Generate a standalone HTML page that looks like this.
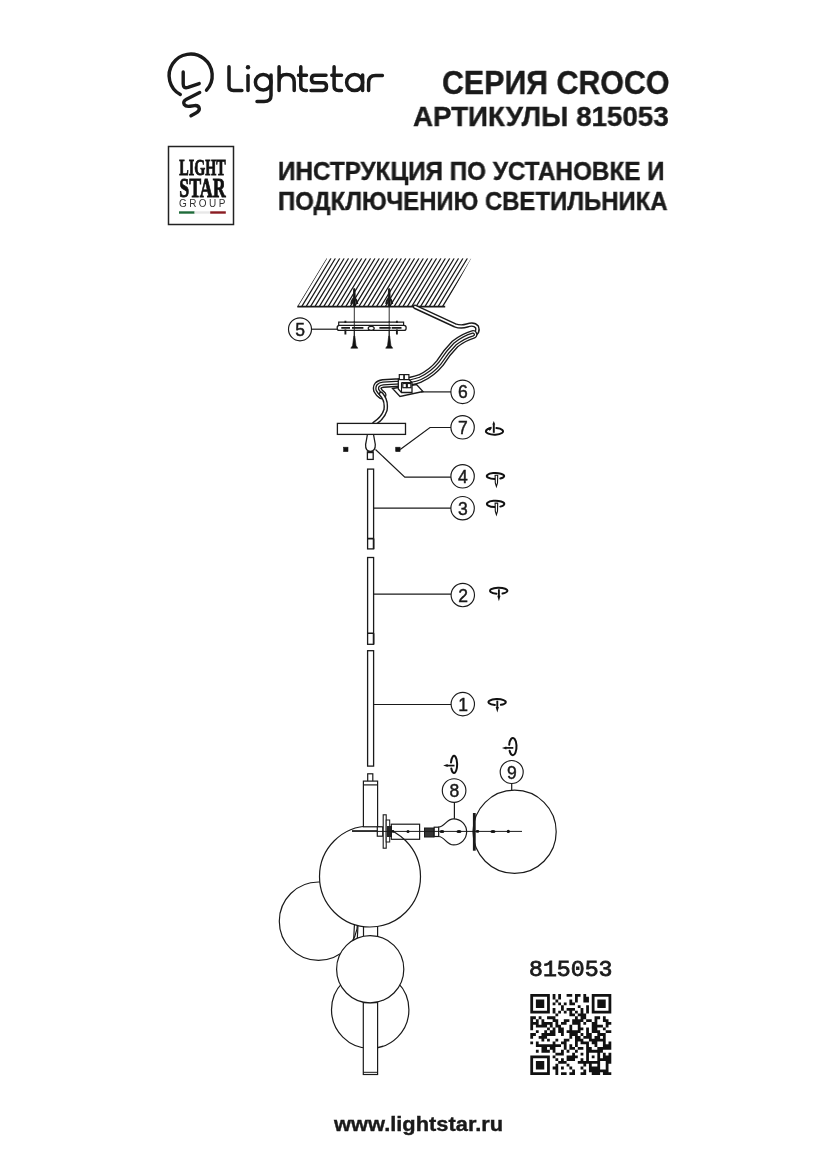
<!DOCTYPE html>
<html><head><meta charset="utf-8">
<style>
html,body{margin:0;padding:0;background:#fff;}
body{width:826px;height:1169px;position:relative;overflow:hidden;}
.t{position:absolute;white-space:nowrap;font-family:"Liberation Sans",sans-serif;font-weight:bold;color:#1a1a1a;line-height:1;transform-origin:0 0;-webkit-text-stroke:0.4px #1a1a1a;will-change:transform;}
svg{position:absolute;left:0;top:0;will-change:transform;}
</style></head><body>
<div class="t" style="left:442px;top:64.6px;font-size:34px;transform:scaleX(0.893)">СЕРИЯ CROCO</div>
<div class="t" style="left:413px;top:102.3px;font-size:28.5px;transform:scaleX(0.973)">АРТИКУЛЫ 815053</div>
<div class="t" style="left:278.2px;top:158.6px;font-size:25px;transform:scaleX(0.970)">ИНСТРУКЦИЯ ПО УСТАНОВКЕ И</div>
<div class="t" style="left:278.2px;top:188.5px;font-size:25px;transform:scaleX(0.957)">ПОДКЛЮЧЕНИЮ СВЕТИЛЬНИКА</div>
<div class="t" style="left:528.8px;top:959.2px;font-size:22.5px;transform:scaleX(1.03);font-family:'Liberation Mono',monospace;font-weight:normal;-webkit-text-stroke:0.8px #1a1a1a">815053</div>
<div class="t" style="left:334px;top:1113.4px;font-size:21px;transform:scaleX(1.04)">www.lightstar.ru</div>

<svg width="826" height="1169" viewBox="0 0 826 1169">
<defs>
<clipPath id="ceil"><path d="M326.6 258.3H471.2L444.6 306.6H297.3Z"/></clipPath>
</defs>
<g fill="none" stroke="#1a1a1a" stroke-width="3.4" stroke-linecap="round" stroke-linejoin="round">
<path d="M180.3 94.5A21.55 21.55 0 1 1 206.5 90.2"/>
<path d="M183.2 72V84Q183.2 88.8 188 87.4L199.2 83.6"/>
<path d="M199.7 92.6L186.5 99.3Q182.5 101.5 184.2 104.5Q185.8 106.8 190 106.2L194.5 105.6Q199 105.3 199.3 108.7Q199.5 111.2 196 113L191 115.8"/>
</g>
<g fill="none" stroke="#1a1a1a" stroke-width="3.5" stroke-linecap="round" stroke-linejoin="round">
<path d="M229 66.7V86Q229 90.4 233.4 90.4H241.9"/>
<path d="M248 75.5V90.4"/>
<circle cx="263.2" cy="82.3" r="7.8"/>
<path d="M271 75V95.5Q271 101.6 264 101.6H257"/>
<path d="M279.1 66.7V90.4M279.1 82Q279.1 74.6 286.6 74.6Q294.2 74.6 294.2 82V90.4"/>
<path d="M300.8 66.7V86Q300.8 90.4 305.2 90.4H306.5M298.5 75.3H306.5"/>
<path d="M326 75.3H315Q311.5 75.3 311.5 79Q311.5 82.8 315 82.8H323Q326.5 82.8 326.5 86.6Q326.5 90.4 323 90.4H311"/>
<path d="M334.1 66.7V86Q334.1 90.4 338.5 90.4H341.5M331.8 75.3H341.5"/>
<circle cx="354.6" cy="82.5" r="8"/>
<path d="M362.6 75V90.4"/>
<path d="M368.6 90.4V82.5Q368.6 75.5 375.6 75.5H382.4"/>
</g>
<circle cx="248" cy="67.2" r="2.2" fill="#1a1a1a"/>
<rect x="168.5" y="146.5" width="65" height="78" fill="none" stroke="#222" stroke-width="1.5"/>
<text x="179.3" y="175.3" font-family="Liberation Serif" font-weight="bold" font-size="23" textLength="46.4" lengthAdjust="spacingAndGlyphs" fill="#111" stroke="#111" stroke-width="0.85">LIGHT</text>
<text x="179.3" y="197.1" font-family="Liberation Serif" font-weight="bold" font-size="27" textLength="46.4" lengthAdjust="spacingAndGlyphs" fill="#111" stroke="#111" stroke-width="0.85">STAR</text>
<text x="179" y="207.4" font-family="Liberation Sans" font-size="10" textLength="46.3" lengthAdjust="spacing" fill="#333">GROUP</text>
<rect x="179" y="211.3" width="15.6" height="2.4" fill="#1f6b3a"/>
<rect x="194.6" y="211.3" width="15.6" height="2.4" fill="#e8e8e8"/>
<rect x="210.2" y="211.3" width="15.6" height="2.4" fill="#8a1c22"/>

<g transform="translate(530.3 994) scale(2.793)" fill="#111"><path d="M0 0h7v1h-7zM8 0h1v1h-1zM10 0h1v1h-1zM13 0h2v1h-2zM16 0h2v1h-2zM19 0h1v1h-1zM22 0h7v1h-7zM0 1h1v1h-1zM6 1h1v1h-1zM8 1h1v1h-1zM10 1h1v1h-1zM16 1h1v1h-1zM19 1h2v1h-2zM22 1h1v1h-1zM28 1h1v1h-1zM0 2h1v1h-1zM2 2h3v1h-3zM6 2h1v1h-1zM9 2h1v1h-1zM14 2h1v1h-1zM16 2h1v1h-1zM19 2h2v1h-2zM22 2h1v1h-1zM24 2h3v1h-3zM28 2h1v1h-1zM0 3h1v1h-1zM2 3h3v1h-3zM6 3h1v1h-1zM8 3h1v1h-1zM10 3h1v1h-1zM12 3h1v1h-1zM14 3h2v1h-2zM22 3h1v1h-1zM24 3h3v1h-3zM28 3h1v1h-1zM0 4h1v1h-1zM2 4h3v1h-3zM6 4h1v1h-1zM11 4h1v1h-1zM17 4h1v1h-1zM20 4h1v1h-1zM22 4h1v1h-1zM24 4h3v1h-3zM28 4h1v1h-1zM0 5h1v1h-1zM6 5h1v1h-1zM8 5h1v1h-1zM11 5h1v1h-1zM13 5h3v1h-3zM18 5h1v1h-1zM20 5h1v1h-1zM22 5h1v1h-1zM28 5h1v1h-1zM0 6h7v1h-7zM8 6h1v1h-1zM10 6h1v1h-1zM12 6h1v1h-1zM14 6h1v1h-1zM16 6h1v1h-1zM18 6h1v1h-1zM20 6h1v1h-1zM22 6h7v1h-7zM9 7h1v1h-1zM14 7h2v1h-2zM17 7h3v1h-3zM0 8h2v1h-2zM3 8h1v1h-1zM6 8h3v1h-3zM16 8h1v1h-1zM18 8h2v1h-2zM23 8h2v1h-2zM26 8h1v1h-1zM0 9h1v1h-1zM2 9h1v1h-1zM4 9h1v1h-1zM8 9h2v1h-2zM12 9h2v1h-2zM15 9h4v1h-4zM20 9h2v1h-2zM23 9h1v1h-1zM26 9h2v1h-2zM0 10h3v1h-3zM4 10h4v1h-4zM9 10h1v1h-1zM11 10h2v1h-2zM15 10h3v1h-3zM19 10h1v1h-1zM22 10h2v1h-2zM27 10h2v1h-2zM0 11h1v1h-1zM2 11h4v1h-4zM7 11h1v1h-1zM9 11h2v1h-2zM14 11h1v1h-1zM17 11h1v1h-1zM22 11h4v1h-4zM27 11h1v1h-1zM0 12h1v1h-1zM6 12h1v1h-1zM8 12h1v1h-1zM10 12h2v1h-2zM14 12h1v1h-1zM17 12h2v1h-2zM20 12h1v1h-1zM22 12h2v1h-2zM26 12h1v1h-1zM2 13h1v1h-1zM5 13h1v1h-1zM7 13h2v1h-2zM10 13h2v1h-2zM13 13h5v1h-5zM20 13h1v1h-1zM22 13h3v1h-3zM27 13h2v1h-2zM0 14h2v1h-2zM4 14h5v1h-5zM11 14h1v1h-1zM14 14h3v1h-3zM18 14h1v1h-1zM20 14h2v1h-2zM24 14h3v1h-3zM0 15h1v1h-1zM3 15h3v1h-3zM14 15h1v1h-1zM16 15h2v1h-2zM19 15h3v1h-3zM23 15h2v1h-2zM26 15h1v1h-1zM4 16h1v1h-1zM6 16h1v1h-1zM9 16h1v1h-1zM12 16h2v1h-2zM16 16h3v1h-3zM21 16h6v1h-6zM0 17h1v1h-1zM2 17h1v1h-1zM8 17h1v1h-1zM11 17h2v1h-2zM16 17h1v1h-1zM18 17h3v1h-3zM22 17h2v1h-2zM26 17h1v1h-1zM28 17h1v1h-1zM2 18h9v1h-9zM12 18h1v1h-1zM14 18h1v1h-1zM16 18h1v1h-1zM20 18h1v1h-1zM23 18h1v1h-1zM26 18h3v1h-3zM4 19h2v1h-2zM7 19h2v1h-2zM12 19h1v1h-1zM14 19h2v1h-2zM17 19h2v1h-2zM20 19h2v1h-2zM24 19h5v1h-5zM2 20h1v1h-1zM4 20h3v1h-3zM8 20h1v1h-1zM11 20h1v1h-1zM13 20h1v1h-1zM16 20h1v1h-1zM20 20h6v1h-6zM9 21h3v1h-3zM15 21h1v1h-1zM18 21h1v1h-1zM20 21h1v1h-1zM24 21h1v1h-1zM26 21h1v1h-1zM28 21h1v1h-1zM0 22h7v1h-7zM8 22h1v1h-1zM13 22h4v1h-4zM20 22h1v1h-1zM22 22h1v1h-1zM24 22h1v1h-1zM26 22h3v1h-3zM0 23h1v1h-1zM6 23h1v1h-1zM9 23h1v1h-1zM11 23h1v1h-1zM13 23h3v1h-3zM18 23h1v1h-1zM20 23h1v1h-1zM24 23h5v1h-5zM0 24h1v1h-1zM2 24h3v1h-3zM6 24h1v1h-1zM10 24h3v1h-3zM17 24h8v1h-8zM27 24h2v1h-2zM0 25h1v1h-1zM2 25h3v1h-3zM6 25h1v1h-1zM9 25h1v1h-1zM13 25h1v1h-1zM19 25h1v1h-1zM21 25h1v1h-1zM24 25h1v1h-1zM27 25h1v1h-1zM0 26h1v1h-1zM2 26h3v1h-3zM6 26h1v1h-1zM8 26h2v1h-2zM11 26h1v1h-1zM14 26h1v1h-1zM18 26h1v1h-1zM21 26h4v1h-4zM27 26h1v1h-1zM0 27h1v1h-1zM6 27h1v1h-1zM9 27h1v1h-1zM15 27h1v1h-1zM19 27h1v1h-1zM21 27h7v1h-7zM0 28h7v1h-7zM9 28h1v1h-1zM11 28h2v1h-2zM14 28h2v1h-2zM18 28h2v1h-2zM22 28h3v1h-3zM26 28h3v1h-3z"/></g>

<g fill="none" stroke="#1a1a1a" stroke-width="1.2">
<g clip-path="url(#ceil)" stroke-width="1.25"><path d="M288.50 306.6L317.80 258.3M292.90 306.6L322.20 258.3M297.30 306.6L326.60 258.3M301.70 306.6L331.00 258.3M306.10 306.6L335.40 258.3M310.50 306.6L339.80 258.3M314.90 306.6L344.20 258.3M319.30 306.6L348.60 258.3M323.70 306.6L353.00 258.3M328.10 306.6L357.40 258.3M332.50 306.6L361.80 258.3M336.90 306.6L366.20 258.3M341.30 306.6L370.60 258.3M345.70 306.6L375.00 258.3M350.10 306.6L379.40 258.3M354.50 306.6L383.80 258.3M358.90 306.6L388.20 258.3M363.30 306.6L392.60 258.3M367.70 306.6L397.00 258.3M372.10 306.6L401.40 258.3M376.50 306.6L405.80 258.3M380.90 306.6L410.20 258.3M385.30 306.6L414.60 258.3M389.70 306.6L419.00 258.3M394.10 306.6L423.40 258.3M398.50 306.6L427.80 258.3M402.90 306.6L432.20 258.3M407.30 306.6L436.60 258.3M411.70 306.6L441.00 258.3M416.10 306.6L445.40 258.3M420.50 306.6L449.80 258.3M424.90 306.6L454.20 258.3M429.30 306.6L458.60 258.3M433.70 306.6L463.00 258.3M438.10 306.6L467.40 258.3M442.50 306.6L471.80 258.3M446.90 306.6L476.20 258.3"/></g>
<path d="M297.3 306.6H445.2" stroke-width="1.6"/>

<!-- anchors in ceiling -->
<path d="M354.3 306V348M389.2 306V348" stroke-width="0.9"/>
<path d="M353.3 306L353.4 296L353.7 288.7H354.9L355.2 296L355.3 306Z" fill="#111" stroke-width="0.9"/>
<path d="M388.2 306L388.3 296L388.6 288.7H389.8L390.1 296L390.2 306Z" fill="#111" stroke-width="0.9"/>
<path d="M351.3 304Q351.8 299.5 354.3 297.8Q356.8 299.5 357.3 304M386.2 304Q386.7 299.5 389.2 297.8Q391.7 299.5 392.2 304" stroke-width="2"/>
<!-- bracket -->
<path d="M338.7 325.3V322.2H403.6V325.3" fill="#fff" stroke-width="1.2"/>
<rect x="337.2" y="325.3" width="68.9" height="5.1" rx="2.2" fill="#fff" stroke-width="1.3"/>
<path d="M341.3 327.9H350M352 327.9H363.4M379.4 327.9H390.7M391.7 327.9H401.5" stroke-width="1.9"/>
<ellipse cx="371.2" cy="328.3" rx="3" ry="2" fill="#fff" stroke-width="1.2"/>
<path d="M345.4 329.5V334.5M396.9 329.5V334.5M345.4 320.8V323M396.9 320.8V323" stroke-width="1.9"/>
<path d="M354.3 321V336M389.2 321V336" stroke-width="0.9"/>
<!-- screws -->
<path d="M353.8 336L352.6 345.5L350.8 348.2H357.8L356 345.5L354.8 336Z" fill="#111" stroke-width="0.6"/>
<path d="M388.7 336L387.5 345.5L385.7 348.2H392.7L390.9 345.5L389.7 336Z" fill="#111" stroke-width="0.6"/>
<circle cx="300" cy="329.3" r="11.5" fill="#fff" stroke="#1a1a1a" stroke-width="1.15"/><text x="300.2" y="335.8" text-anchor="middle" font-family="Liberation Sans" font-size="17.5" fill="#1a1a1a" stroke="#1a1a1a" stroke-width="0.45">5</text>
<path d="M311.5 329.2H337.2"/>

<!-- cable from ceiling -->
<g stroke-linecap="round" stroke-linejoin="round">
<path d="M415 306.8L455 325.3Q461 327.5 467 325.5Q474 323 477 327Q479 332 473 335.5" stroke="#1a1a1a" stroke-width="4.6"/>
<path d="M415 306.8L455 325.3Q461 327.5 467 325.5Q474 323 477 327Q479 332 473 335.5" stroke="#fff" stroke-width="1.8"/>
<path d="M473 334.5Q464 337 455 344Q447 352 440 363Q432 373 420 378.5Q412 381.5 400 382.5L383 383.5Q376 384.5 377.5 390Q379 393 382 395" stroke="#1a1a1a" stroke-width="9"/>
<path d="M473 334.5Q464 337 455 344Q447 352 440 363Q432 373 420 378.5Q412 381.5 400 382.5L383 383.5Q376 384.5 377.5 390Q379 393 382 395" stroke="#fff" stroke-width="6.2"/>
<path d="M473 334.5Q464 337 455 344Q447 352 440 363Q432 373 420 378.5Q412 381.5 400 382.5L383 383.5Q376 384.5 377.5 390Q379 393 382 395" stroke="#1a1a1a" stroke-width="4"/>
<path d="M473 334.5Q464 337 455 344Q447 352 440 363Q432 373 420 378.5Q412 381.5 400 382.5L383 383.5Q376 384.5 377.5 390Q379 393 382 395" stroke="#fff" stroke-width="1.4"/>
<path d="M381 394Q387 400 385.5 410Q383 418 374.5 423.4" stroke="#1a1a1a" stroke-width="4.6"/>
<path d="M381 394Q387 400 385.5 410Q383 418 374.5 423.4" stroke="#fff" stroke-width="1.8"/>
</g>
<!-- terminal block -->
<path d="M392.5 388.5L416.5 384.5L423 391.5L400 396.5Z" fill="#fff" stroke-width="1.3"/>
<path d="M398.3 379V389L401.5 392.5H412V382.5L408.5 379Z" fill="#fff" stroke-width="1.3"/>
<path d="M401.5 382.5H412M401.5 382.5V392.5" stroke-width="1.1"/>
<rect x="399.3" y="374.6" width="4.6" height="5" fill="#fff" stroke-width="1.2"/>
<rect x="404.3" y="374.6" width="4.6" height="5" fill="#fff" stroke-width="1.2"/>
<rect x="402.8" y="383.5" width="3.6" height="4.2" fill="#fff" stroke-width="1.2"/>
<rect x="407.3" y="383.5" width="3.6" height="4.2" fill="#fff" stroke-width="1.2"/>
<circle cx="462.6" cy="391.9" r="11.7" fill="#fff" stroke="#1a1a1a" stroke-width="1.15"/><text x="462.8" y="398.4" text-anchor="middle" font-family="Liberation Sans" font-size="17.5" fill="#1a1a1a" stroke="#1a1a1a" stroke-width="0.45">6</text>
<path d="M421 391.9H451"/>

<!-- canopy -->
<rect x="337.4" y="423.4" width="68.1" height="11" fill="#fff" stroke-width="1.3"/>
<rect x="343.6" y="447.2" width="4.4" height="4.4" fill="#111" stroke-width="0.6"/>
<rect x="395.7" y="447.2" width="4.4" height="4.4" fill="#111" stroke-width="0.6"/>
<circle cx="462.6" cy="427.3" r="11.7" fill="#fff" stroke="#1a1a1a" stroke-width="1.15"/><text x="462.8" y="433.8" text-anchor="middle" font-family="Liberation Sans" font-size="17.5" fill="#1a1a1a" stroke="#1a1a1a" stroke-width="0.45">7</text>
<path d="M451 427.5H430L400.2 449.4"/>
<!-- item 4 -->
<path d="M367.3 435Q366.5 440 365.6 444.5Q365.3 451.2 370.4 451.4Q375.5 451.2 375.3 444.5Q374.5 440 373.6 435" stroke-width="1.3"/>
<rect x="367.4" y="451.9" width="5.8" height="7.5" fill="#fff" stroke-width="1.3"/><path d="M367.4 452.2H373.2" stroke-width="2"/>
<path d="M375.5 449.5L404.8 477.2H451"/>
<circle cx="462.6" cy="476.3" r="11.7" fill="#fff" stroke="#1a1a1a" stroke-width="1.15"/><text x="462.8" y="482.8" text-anchor="middle" font-family="Liberation Sans" font-size="17.5" fill="#1a1a1a" stroke="#1a1a1a" stroke-width="0.45">4</text>
<!-- rods -->
<rect x="367.6" y="469.1" width="6" height="79.8" fill="#fff" stroke-width="1.3"/>
<path d="M367.6 538.6H373.6M373.6 538.6V548.9" stroke-width="1.6"/>
<path d="M373.6 508.2H451"/>
<circle cx="462.6" cy="508.2" r="11.7" fill="#fff" stroke="#1a1a1a" stroke-width="1.15"/><text x="462.8" y="514.7" text-anchor="middle" font-family="Liberation Sans" font-size="17.5" fill="#1a1a1a" stroke="#1a1a1a" stroke-width="0.45">3</text>
<rect x="367.6" y="557.5" width="6" height="86.8" fill="#fff" stroke-width="1.3"/>
<path d="M367.6 633.2H373.6M373.6 633.2V644.3" stroke-width="1.6"/>
<path d="M373.6 594.2H451"/>
<circle cx="462.8" cy="595" r="11.7" fill="#fff" stroke="#1a1a1a" stroke-width="1.15"/><text x="463.0" y="601.5" text-anchor="middle" font-family="Liberation Sans" font-size="17.5" fill="#1a1a1a" stroke="#1a1a1a" stroke-width="0.45">2</text>
<rect x="367.6" y="650.7" width="6" height="115.4" fill="#fff" stroke-width="1.3"/>
<path d="M373.6 704.5H451"/>
<circle cx="462.8" cy="704.1" r="11.7" fill="#fff" stroke="#1a1a1a" stroke-width="1.15"/><text x="463.0" y="710.6" text-anchor="middle" font-family="Liberation Sans" font-size="17.5" fill="#1a1a1a" stroke="#1a1a1a" stroke-width="0.45">1</text>
</g>
<path d="M490.5 428.3A8.6 3.4 0 1 0 496.4 428.0" fill="none" stroke="#111" stroke-width="2" stroke-linecap="round"/><path d="M487.5 428.6L491.3 427.1L490.0 430.3Z" fill="#111" stroke="#111" stroke-width="0.8"/><path d="M493.8 432.8V424.1" stroke="#111" stroke-width="1.9"/><path d="M492.4 424.6H495.2L493.8 421.1Z" fill="#111"/>
<path d="M500.3 478.5A8.7 3.0 0 1 0 494.9 479.0" fill="none" stroke="#111" stroke-width="2" stroke-linecap="round"/><path d="M495.1 475.2L495.3 482.8L496.4 486.3L497.5 482.8L497.7 475.2Z" fill="#fff" stroke="#111" stroke-width="1.1"/>
<path d="M500.3 506.6A8.7 3.2 0 1 0 494.9 507.1" fill="none" stroke="#111" stroke-width="2" stroke-linecap="round"/><path d="M495.1 503.1L495.3 511.2L496.4 514.7L497.5 511.2L497.7 503.1Z" fill="#fff" stroke="#111" stroke-width="1.1"/>
<path d="M502.5 593.5A8.7 3.0 0 1 0 496.5 593.7" fill="none" stroke="#111" stroke-width="2" stroke-linecap="round"/><path d="M498.9 589.3V596.3" stroke="#111" stroke-width="1.9"/><path d="M497.3 595.8H500.5L498.9 601.3Z" fill="#111"/>
<path d="M500.9 704.8A8.7 3.0 0 1 0 494.9 705.0" fill="none" stroke="#111" stroke-width="2" stroke-linecap="round"/><path d="M497.3 700.6V707.5" stroke="#111" stroke-width="1.9"/><path d="M495.7 707.0H498.9L497.3 712.5Z" fill="#111"/>
<path d="M451.0 762.5A3.1 8.6 0 1 1 451.3 768.5" fill="none" stroke="#111" stroke-width="2" stroke-linecap="round"/><path d="M454.5 765.6H447.1" stroke="#111" stroke-width="1.7"/><path d="M447.6 764.1V767.1L443.1 765.6Z" fill="#111"/>
<path d="M509.2 744.8A3.7 8.6 0 1 1 509.6 750.8" fill="none" stroke="#111" stroke-width="2" stroke-linecap="round"/><path d="M513.3 747.9H505.9" stroke="#111" stroke-width="1.7"/><path d="M506.4 746.4V749.4L501.9 747.9Z" fill="#111"/>

<g fill="#fff" stroke="#1a1a1a" stroke-width="1.2">
<!-- spheres -->
<circle cx="318.5" cy="921.2" r="39.2"/>
<circle cx="370.2" cy="1009.7" r="38.7"/>
<rect x="363.3" y="1002.6" width="14.3" height="71.9"/>
<path d="M363.3 1072.3H377.6" fill="none" stroke-width="1"/>
<rect x="363.5" y="924" width="14.1" height="13"/>
<path d="M354.4 925L353.6 941M358 925L357.2 941" fill="none"/>
<circle cx="370.2" cy="969.2" r="33.6"/>
<circle cx="370" cy="876.5" r="50.5"/>
<!-- body -->
<rect x="367.7" y="773.8" width="5.1" height="9.7"/>
<rect x="363.4" y="781.1" width="14.2" height="45.7"/>
<path d="M363.4 784.9H377.6" fill="none"/>
<path d="M352 830.7H385" fill="none" stroke-width="1"/>
<rect x="377.3" y="826.8" width="5.5" height="9.4"/>
<rect x="383.2" y="814.8" width="3" height="33.4" fill="#fff" stroke-width="1.1"/>
<rect x="386.2" y="820" width="3.5" height="22" fill="#fff" stroke-width="1"/>
<rect x="387" y="826" width="5" height="11" fill="#222" stroke="none"/>
<rect x="391.3" y="824.2" width="28.3" height="15.1" fill="none"/>
<!-- bulb -->
<rect x="424.5" y="828" width="9.5" height="9" fill="#333" stroke-width="1"/>
<rect x="434.2" y="827.2" width="4.5" height="9.3"/>
<path d="M438.7 827.2C445 826.5 446.5 818.8 453.6 818.8A13 13 0 0 1 453.6 844.9C446.5 844.9 445 837 438.7 836.5Z"/>
<!-- sphere 9 -->
<circle cx="514.6" cy="831.8" r="41.6"/>
<path d="M474.3 813V850.7" fill="none" stroke-width="2.8"/>
<path d="M352 831.4H522" fill="none" stroke-width="1"/>
<path d="M454.4 802.3V818.8M511.7 783.5V790.2" fill="none"/>
</g>
<g fill="#111">
<circle cx="393" cy="831.4" r="1.3"/><circle cx="408" cy="831.4" r="1.5"/>
<ellipse cx="442" cy="831.4" rx="2.4" ry="1.5"/><ellipse cx="459" cy="831.4" rx="2.6" ry="1.5"/>
<ellipse cx="477.5" cy="831.4" rx="1.8" ry="1.4"/><ellipse cx="493" cy="831.4" rx="2.6" ry="1.5"/><circle cx="508.3" cy="831.4" r="1.6"/>
</g>
<g stroke="#1a1a1a" stroke-width="1.2">
<circle cx="454.1" cy="790.5" r="11.8" fill="#fff" stroke="#1a1a1a" stroke-width="1.15"/><text x="454.3" y="797.0" text-anchor="middle" font-family="Liberation Sans" font-size="17.5" fill="#1a1a1a" stroke="#1a1a1a" stroke-width="0.45">8</text>
<circle cx="511.7" cy="772" r="11.5" fill="#fff" stroke="#1a1a1a" stroke-width="1.15"/><text x="511.9" y="778.5" text-anchor="middle" font-family="Liberation Sans" font-size="17.5" fill="#1a1a1a" stroke="#1a1a1a" stroke-width="0.45">9</text>
</g>
</svg>
</body></html>
